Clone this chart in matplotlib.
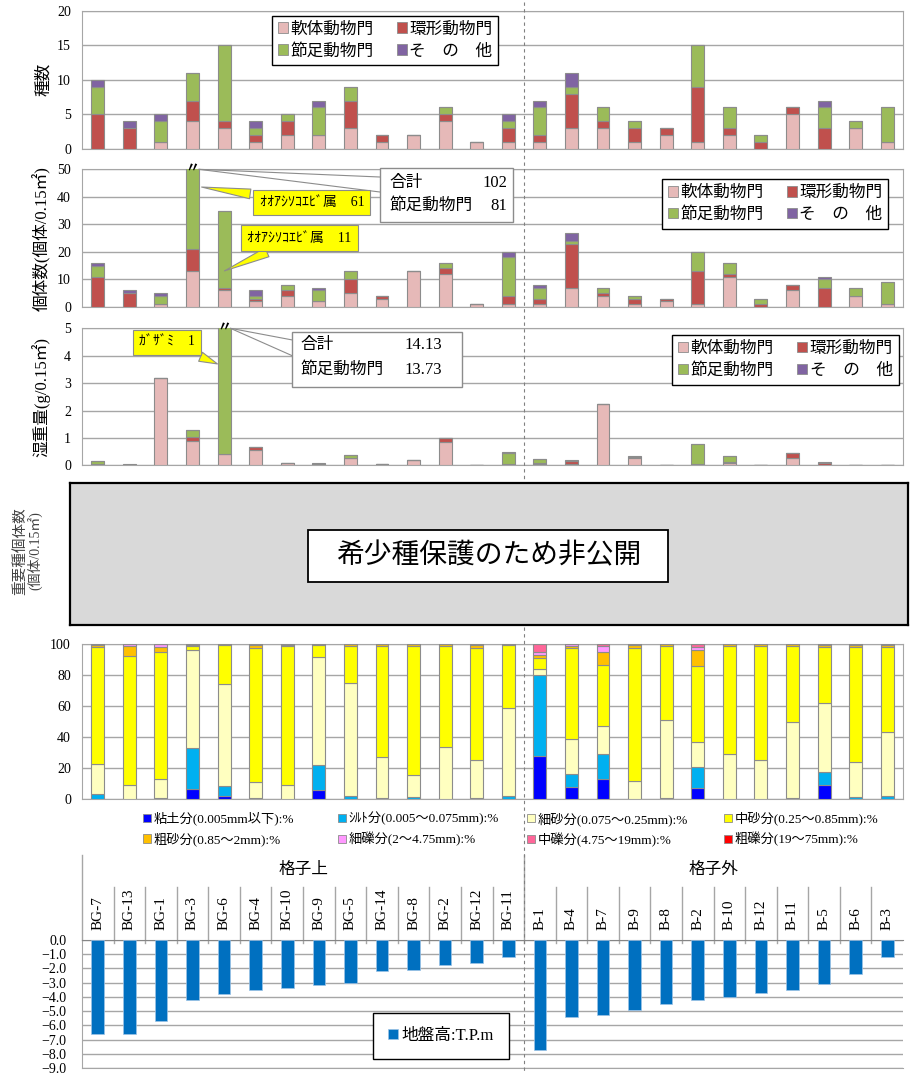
import matplotlib
matplotlib.use('Agg')
import matplotlib.pyplot as plt
from matplotlib.patches import Rectangle, Patch
from matplotlib.lines import Line2D
import matplotlib.transforms as mtrans
import numpy as np

plt.rcParams['font.family'] = ['Liberation Serif', 'Noto Sans CJK JP']
plt.rcParams['axes.unicode_minus'] = True

# ---------------- data ----------------
stations = ['BG-7', 'BG-13', 'BG-1', 'BG-3', 'BG-6', 'BG-4', 'BG-10', 'BG-9', 'BG-5', 'BG-14',
            'BG-8', 'BG-2', 'BG-12', 'BG-11',
            'B-1', 'B-4', 'B-7', 'B-9', 'B-8', 'B-2', 'B-10', 'B-12', 'B-11', 'B-5', 'B-6', 'B-3']
groups = ['格子上', '格子外']
phyla = ['軟体動物門', '環形動物門', '節足動物門', 'そ　の　他']

# species count
sp_mollusca = [0, 0, 1, 4, 3, 1, 2, 2, 3, 1, 2, 4, 1, 1, 1, 3, 3, 1, 2, 1, 2, 0, 5, 0, 3, 1]
sp_annelida = [5, 3, 0, 3, 1, 1, 2, 0, 4, 1, 0, 1, 0, 2, 1, 5, 1, 2, 1, 8, 1, 1, 1, 3, 0, 0]
sp_arthropoda = [4, 0, 3, 4, 11, 1, 1, 4, 2, 0, 0, 1, 0, 1, 4, 1, 2, 1, 0, 6, 3, 1, 0, 3, 1, 5]
sp_other = [1, 1, 1, 0, 0, 1, 0, 1, 0, 0, 0, 0, 0, 1, 1, 2, 0, 0, 0, 0, 0, 0, 0, 1, 0, 0]

# individuals (per 0.15 m2)
ind_mollusca = [0, 0, 1, 13, 6, 2, 4, 2, 5, 3, 13, 12, 1, 1, 1, 7, 4, 1, 2, 1, 11, 0, 6, 0, 4, 1]
ind_annelida = [11, 5, 0, 8, 1, 1, 2, 0, 5, 1, 0, 2, 0, 3, 2, 16, 1, 2, 1, 12, 1, 1, 2, 7, 0, 0]
ind_arthropoda = [4, 0, 3, 81, 28, 1, 2, 4, 3, 0, 0, 2, 0, 14, 4, 1, 2, 1, 0, 7, 4, 2, 0, 3, 3, 8]
ind_other = [1, 1, 1, 0, 0, 2, 0, 1, 0, 0, 0, 0, 0, 2, 1, 3, 0, 0, 0, 0, 0, 0, 0, 1, 0, 0]

# wet weight (g / 0.15 m2)
wt_mollusca = [0.02, 0.01, 3.18, 0.89, 0.40, 0.55, 0.07, 0.01, 0.26, 0.03, 0.20, 0.84, 0.02, 0.03,
               0.05, 0.04, 2.22, 0.26, 0.02, 0.02, 0.07, 0.01, 0.28, 0.02, 0.01, 0.01]
wt_annelida = [0.04, 0.00, 0.00, 0.14, 0.00, 0.12, 0.00, 0.03, 0.00, 0.01, 0.00, 0.16, 0.00, 0.00,
               0.05, 0.12, 0.00, 0.04, 0.00, 0.04, 0.05, 0.00, 0.16, 0.08, 0.00, 0.00]
wt_arthropoda = [0.10, 0.00, 0.00, 0.26, 13.73, 0.00, 0.00, 0.00, 0.10, 0.00, 0.00, 0.00, 0.00, 0.41,
                 0.12, 0.00, 0.00, 0.00, 0.00, 0.73, 0.23, 0.00, 0.00, 0.00, 0.00, 0.00]
wt_other = [0.00, 0.03, 0.02, 0.00, 0.00, 0.00, 0.01, 0.03, 0.02, 0.00, 0.00, 0.00, 0.00, 0.05,
            0.02, 0.05, 0.03, 0.05, 0.00, 0.00, 0.00, 0.00, 0.02, 0.02, 0.00, 0.00]

# grain size composition (%)
grain_labels = ['粘土分(0.005mm以下):%', 'ｼﾙﾄ分(0.005～0.075mm):%', '細砂分(0.075～0.25mm):%',
                '中砂分(0.25～0.85mm):%', '粗砂分(0.85～2mm):%', '細礫分(2～4.75mm):%',
                '中礫分(4.75～19mm):%', '粗礫分(19～75mm):%']
g_clay = [0, 0, 0, 6.9, 2.4, 0, 0, 6.2, 0, 0, 0, 0, 0, 0,
          28.0, 8.2, 13.3, 0, 0, 7.3, 0, 0, 0, 9.0, 0, 0]
g_silt = [3.5, 0.5, 0.8, 26.0, 6.4, 0.8, 0.3, 16.2, 2.2, 0.8, 1.2, 0.3, 1.1, 2.2,
          52.2, 7.9, 15.9, 0, 0.8, 13.3, 0.3, 0, 0.8, 8.4, 1.3, 1.9]
g_fine_sand = [19.5, 8.7, 12.1, 63.4, 65.4, 10.4, 9.2, 69.2, 72.6, 26.3, 14.7, 33.2, 24.1, 56.7,
               3.7, 22.6, 18.1, 11.8, 50.4, 16.2, 28.9, 25.2, 49.3, 44.5, 23.0, 41.3]
g_medium_sand = [75.5, 83.5, 81.9, 2.8, 25.4, 86.6, 89.2, 8.0, 24.3, 72.0, 83.2, 65.6, 72.6, 40.4,
                 7.3, 58.7, 39.4, 86.0, 47.9, 49.2, 69.9, 73.9, 49.0, 36.6, 74.2, 55.3]
g_coarse_sand = [1.0, 6.4, 3.5, 0.5, 0.4, 1.5, 1.0, 0.4, 0.9, 0.9, 0.9, 0.9, 1.5, 0.7,
                 2.0, 1.5, 8.1, 1.5, 0.9, 10.1, 0.9, 0.9, 0.9, 1.0, 1.0, 1.0]
g_fine_gravel = [0.5, 0.9, 1.7, 0.4, 0, 0.7, 0.3, 0, 0, 0, 0, 0, 0.7, 0,
                 2.0, 1.1, 4.3, 0.7, 0, 2.4, 0, 0, 0, 0.5, 0.5, 0.5]
g_medium_gravel = [0, 0, 0, 0, 0, 0, 0, 0, 0, 0, 0, 0, 0, 0,
                   4.8, 0, 0.9, 0, 0, 1.5, 0, 0, 0, 0, 0, 0]
g_coarse_gravel = [0] * 26

# ground elevation (T.P. m)
elevation = [-6.6, -6.6, -5.7, -4.2, -3.8, -3.5, -3.4, -3.2, -3.0, -2.2, -2.1, -1.8, -1.6, -1.2,
             -7.7, -5.4, -5.3, -4.9, -4.5, -4.2, -4.0, -3.7, -3.5, -3.1, -2.4, -1.2]

# ---------------- style ----------------
phy_colors = ['#E6B9B8', '#C0504D', '#9BBB59', '#8064A2']
grain_colors = ['#0000FF', '#00B0F0', '#FFFFC0', '#FFFF00', '#FFC000', '#FF99FF', '#FF6699', '#FF0000']
EDGE = '#8C8C8C'
GRID = '#A6A6A6'

W, H = 910, 1076
fig = plt.figure(figsize=(W / 100, H / 100), dpi=100)
n = len(stations)
x = np.arange(n)
L, R = 82, 903


def add_ax(top, bottom, left=L, right=R):
    return fig.add_axes([left / W, 1 - bottom / H, (right - left) / W, (bottom - top) / H])


def style(ax, ylim, yticks, labels=None, pad=8):
    ax.set_xlim(-0.5, n - 0.5)
    ax.set_ylim(*ylim)
    ax.set_yticks(yticks)
    if labels is not None:
        ax.set_yticklabels(labels)
    ax.set_xticks([])
    ax.yaxis.grid(True, color=GRID, lw=1)
    ax.set_axisbelow(True)
    ax.tick_params(axis='y', length=0, pad=pad, labelsize=10)
    for s in ax.spines.values():
        s.set_color(GRID)


def stacked(ax, series, colors, width=0.41):
    bottom = np.zeros(n)
    for vals, c in zip(series, colors):
        vals = np.array(vals, dtype=float)
        ax.bar(x, vals, width, bottom=bottom, color=c, edgecolor=EDGE, linewidth=0.8, zorder=3)
        bottom += vals


def phylum_legend(ax, cx, cy):
    hs = [Patch(facecolor=c, edgecolor=EDGE, lw=0.6) for c in phy_colors]
    order = [0, 2, 1, 3]
    lg = ax.legend([hs[i] for i in order], [phyla[i] for i in order], ncol=2, loc='center',
                   bbox_to_anchor=(cx, cy), fontsize=12, frameon=True, fancybox=False,
                   edgecolor='black', handlelength=0.6, handleheight=0.6, handletextpad=0.15,
                   columnspacing=1.4, labelspacing=0.35, borderpad=0.35, framealpha=1)
    lg.get_frame().set_linewidth(1.0)
    lg.set_zorder(10)


# ---------- Panel 1: species ----------
ax1 = add_ax(11, 148.7)
style(ax1, (0, 20), [0, 5, 10, 15, 20])
stacked(ax1, [sp_mollusca, sp_annelida, sp_arthropoda, sp_other], phy_colors)
ax1.set_ylabel('種数', fontsize=12)
ax1.yaxis.set_label_coords(-0.036, 0.5)
phylum_legend(ax1, 0.369, 0.786)

# ---------- Panel 2: individuals ----------
ax2 = add_ax(169.3, 307)
style(ax2, (0, 50), [0, 10, 20, 30, 40, 50])
stacked(ax2, [ind_mollusca, ind_annelida, ind_arthropoda, ind_other], phy_colors)
ax2.set_ylabel('個体数(個体/0.15㎡)', fontsize=12)
ax2.yaxis.set_label_coords(-0.038, 0.5)
phylum_legend(ax2, 0.844, 0.748)

i3 = stations.index('BG-3')
tot3 = ind_mollusca[i3] + ind_annelida[i3] + ind_arthropoda[i3] + ind_other[i3]
ax2.text(i3, 50, '〃', ha='center', va='center', fontsize=10, fontweight='bold', zorder=6,
         clip_on=False)
ax2.add_patch(Rectangle((0.363, 0.617), 0.162, 0.392, transform=ax2.transAxes, fc='white',
                        ec=EDGE, lw=1, clip_on=False, zorder=5))
ax2.text(0.375, 0.90, '合計', transform=ax2.transAxes, fontsize=12, va='center', zorder=6)
ax2.text(0.518, 0.90, f'{tot3}', transform=ax2.transAxes, fontsize=12, va='center', ha='right', zorder=6)
ax2.text(0.375, 0.733, '節足動物門', transform=ax2.transAxes, fontsize=12, va='center', zorder=6)
ax2.text(0.518, 0.733, f'{ind_arthropoda[i3]}', transform=ax2.transAxes, fontsize=12, va='center',
         ha='right', zorder=6)
for yy in (0.944, 0.835):
    ax2.annotate('', xy=(i3 + 0.2, 50), xycoords='data', xytext=(0.363, yy), textcoords='axes fraction',
                 arrowprops=dict(arrowstyle='-', color=EDGE, lw=0.8, shrinkA=0, shrinkB=0),
                 annotation_clip=False, zorder=5)

callout = dict(boxstyle='square,pad=0.45', fc='#FFFF00', ec=EDGE, lw=0.8)
wedge = dict(arrowstyle='wedge,tail_width=0.7,shrink_factor=0.5', fc='#FFFF00', ec=EDGE, lw=0.8)
ax2.annotate('ｵｵｱｼｿｺｴﾋﾞ属　61', xy=(i3 + 0.2, 43.7), xycoords='data', xytext=(0.280, 0.758),
             textcoords='axes fraction', ha='center', va='center', fontsize=10, bbox=callout,
             arrowprops=wedge, zorder=7, annotation_clip=False)
i6 = stations.index('BG-6')
ax2.annotate('ｵｵｱｼｿｺｴﾋﾞ属　11', xy=(i6 - 0.07, 12.7), xycoords='data', xytext=(0.265, 0.501),
             textcoords='axes fraction', ha='center', va='center', fontsize=10, bbox=callout,
             arrowprops=wedge, zorder=7, annotation_clip=False)

# ---------- Panel 3: wet weight ----------
ax3 = add_ax(328.3, 465.3)
style(ax3, (0, 5), [0, 1, 2, 3, 4, 5])
stacked(ax3, [wt_mollusca, wt_annelida, wt_arthropoda, wt_other], phy_colors)
ax3.set_ylabel('湿重量(g/0.15㎡)', fontsize=12)
ax3.yaxis.set_label_coords(-0.038, 0.5)
phylum_legend(ax3, 0.857, 0.769)

tot6 = wt_mollusca[i6] + wt_annelida[i6] + wt_arthropoda[i6] + wt_other[i6]
ax3.text(i6, 5, '〃', ha='center', va='center', fontsize=10, fontweight='bold', zorder=6, clip_on=False)
ax3.add_patch(Rectangle((0.256, 0.572), 0.207, 0.401, transform=ax3.transAxes, fc='white',
                        ec=EDGE, lw=1, clip_on=False, zorder=5))
ax3.text(0.2655, 0.878, '合計', transform=ax3.transAxes, fontsize=12, va='center', zorder=6)
ax3.text(0.4385, 0.878, f'{tot6:.2f}', transform=ax3.transAxes, fontsize=12, va='center', ha='right', zorder=6)
ax3.text(0.2655, 0.696, '節足動物門', transform=ax3.transAxes, fontsize=12, va='center', zorder=6)
ax3.text(0.4385, 0.696, f'{wt_arthropoda[i6]:.2f}', transform=ax3.transAxes, fontsize=12, va='center',
         ha='right', zorder=6)
for yy in (0.915, 0.80):
    ax3.annotate('', xy=(i6 + 0.2, 5), xycoords='data', xytext=(0.256, yy), textcoords='axes fraction',
                 arrowprops=dict(arrowstyle='-', color=EDGE, lw=0.8, shrinkA=0, shrinkB=0),
                 annotation_clip=False, zorder=5)
ax3.annotate('ｶﾞｻﾞﾐ　1', xy=(i6 - 0.13, 3.66), xycoords='data', xytext=(0.1035, 0.896),
             textcoords='axes fraction', ha='center', va='center', fontsize=10, bbox=callout,
             arrowprops=wedge, zorder=7, annotation_clip=False)

# ---------- Panel 4: hidden (grey box) ----------
ax4 = add_ax(483, 625, left=70, right=908)
ax4.set_facecolor('#D9D9D9')
ax4.set_xticks([])
ax4.set_yticks([])
for s in ax4.spines.values():
    s.set_color('black')
    s.set_linewidth(1.6)
ax4.add_patch(Rectangle((0.284, 0.303), 0.430, 0.366, transform=ax4.transAxes, fc='white',
                        ec='black', lw=1.3))
ax4.text(0.5, 0.486, '希少種保護のため非公開', transform=ax4.transAxes, ha='center', va='center',
         fontsize=20)
fig.text(20 / W, 1 - 551 / H, '重要種個体数', rotation=90, ha='center', va='center', fontsize=10.5,
         color='#404040')
fig.text(35 / W, 1 - 551 / H, '(個体/0.15㎡)', rotation=90, ha='center', va='center', fontsize=10,
         color='#404040')

# ---------- Panel 5: grain size ----------
ax5 = add_ax(644.3, 799.3)
style(ax5, (0, 100), [0, 20, 40, 60, 80, 100])
stacked(ax5, [g_clay, g_silt, g_fine_sand, g_medium_sand, g_coarse_sand, g_fine_gravel,
              g_medium_gravel, g_coarse_gravel], grain_colors)
gh = [Patch(facecolor=c, edgecolor=EDGE, lw=0.6) for c in grain_colors]
col_x = [143, 338, 527, 724]
for j in range(4):
    fig.legend([gh[j], gh[j + 4]], [grain_labels[j], grain_labels[j + 4]], loc='upper left',
               bbox_to_anchor=(col_x[j] / W, 1 - 812 / H), frameon=False, fontsize=9.5,
               handlelength=0.6, handleheight=0.6, handletextpad=0.2, labelspacing=0.5,
               borderpad=0, borderaxespad=0)

# ---------- Panel 6: elevation ----------
ax6 = add_ax(939.7, 1068.3)
ax6.set_xlim(-0.5, n - 0.5)
ax6.set_ylim(-9, 0)
yt = np.arange(-9, 1, 1)
ax6.set_yticks(yt)
ax6.set_yticklabels([f'{v:.1f}'.replace('-', '−') if v != 0 else '0.0' for v in yt])
ax6.set_xticks([])
ax6.yaxis.grid(True, color=GRID, lw=1)
ax6.set_axisbelow(True)
ax6.tick_params(axis='y', length=0, pad=11, labelsize=10)
ax6.spines['right'].set_visible(False)
ax6.spines['top'].set_color('#868686')
ax6.spines['left'].set_color(GRID)
ax6.spines['bottom'].set_color(GRID)
ax6.bar(x, elevation, 0.4, color='#0070C0', edgecolor='#9DC3E6', linewidth=0.5, zorder=3,
        label='地盤高:T.P.m')
lg6 = ax6.legend(loc='center', bbox_to_anchor=(0.437, 0.251), fontsize=12, frameon=True,
                 fancybox=False, edgecolor='black', handlelength=0.6, handleheight=0.6,
                 handletextpad=0.2, borderpad=0.9, framealpha=1)
lg6.get_frame().set_linewidth(1.0)

bt = mtrans.blended_transform_factory(ax6.transData, ax6.transAxes)
for i, s in enumerate(stations):
    ax6.text(i, 1.075, s, transform=bt, rotation=90, ha='center', va='bottom', fontsize=11,
             clip_on=False)
for k in range(n - 1):
    top = 1.659 if k == 13 else 1.409
    ax6.plot([k + 0.5, k + 0.5], [0.974, top], transform=bt, color=GRID, lw=1, clip_on=False)
ax6.plot([-0.5, -0.5], [1.0, 1.659], transform=bt, color=GRID, lw=1, clip_on=False)
ax6.text(6.5, 1.54, groups[0], transform=bt, ha='center', va='center', fontsize=12, clip_on=False)
ax6.text(19.5, 1.54, groups[1], transform=bt, ha='center', va='center', fontsize=12, clip_on=False)

# ---------- group divider (dashed, figure level) ----------
xf = fig.transFigure.inverted().transform(ax1.transData.transform((13.5, 0)))[0]
for (y0, y1) in [(2, 481), (627, 1073)]:
    fig.add_artist(Line2D([xf, xf], [1 - y0 / H, 1 - y1 / H], transform=fig.transFigure,
                          color='#808080', ls=(0, (3, 3)), lw=0.8, zorder=20))

fig.savefig('out.png', dpi=100)
